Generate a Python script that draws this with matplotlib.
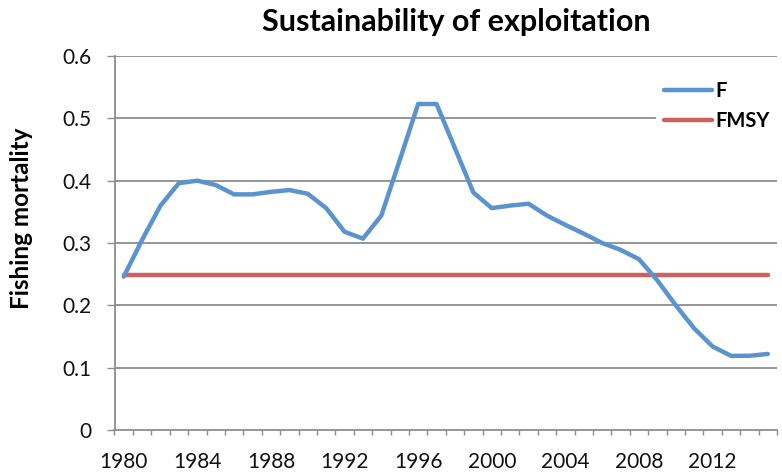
import matplotlib
matplotlib.use("Agg")
import matplotlib.pyplot as plt
import numpy as np

# Fishing mortality series (F) and the FMSY reference level
years = list(range(1980, 2016))
f_values = [0.246, 0.305, 0.360, 0.396, 0.400, 0.393, 0.378, 0.378, 0.382, 0.385,
            0.379, 0.356, 0.318, 0.307, 0.344, 0.433, 0.523, 0.523, 0.452, 0.381,
            0.356, 0.360, 0.363, 0.344, 0.329, 0.315, 0.300, 0.289, 0.274, 0.240,
            0.200, 0.163, 0.134, 0.119, 0.119, 0.122]
fmsy_values = [0.249] * len(years)
x_tick_labels = [1980, 1984, 1988, 1992, 1996, 2000, 2004, 2008, 2012]
y_ticks = [0, 0.1, 0.2, 0.3, 0.4, 0.5, 0.6]

plt.rcParams['font.family'] = ['Lato', 'DejaVu Sans']

W, H = 782, 472
fig = plt.figure(figsize=(W / 100, H / 100), dpi=100)
left, right, top, bottom = 114.5, 777, 56, 430
ax = fig.add_axes([left / W, 1 - bottom / H, (right - left) / W, (bottom - top) / H])

grey = '#8e8e8e'
blue = '#5b93cf'
red = '#cd615b'

ax.set_xlim(years[0] - 0.5, years[-1] + 0.5)
ax.set_ylim(0, 0.6)

# horizontal gridlines
for y in y_ticks[1:]:
    ax.axhline(y, color=grey, lw=1.3, zorder=1)

ax.plot(years, fmsy_values, color=red, lw=3.2, solid_capstyle='round', zorder=3, label='FMSY')
ax.plot(years, f_values, color=blue, lw=3.2, solid_capstyle='round',
        solid_joinstyle='round', zorder=4, label='F')

for s in ['top', 'right']:
    ax.spines[s].set_visible(False)
for s in ['left', 'bottom']:
    ax.spines[s].set_color(grey)
    ax.spines[s].set_linewidth(1.3)

ax.set_yticks(y_ticks)
ax.set_yticklabels([f"{v:g}" for v in y_ticks])
ax.tick_params(axis='y', direction='out', length=6, width=1, color=grey,
               pad=10.5, labelsize=15, labelcolor='#111111')

ax.set_xticks(x_tick_labels)
ax.set_xticklabels([str(v) for v in x_tick_labels])
ax.set_xticks(np.arange(years[0] - 0.5, years[-1] + 1.0, 1.0), minor=True)
ax.tick_params(axis='x', which='major', length=0, pad=15.5, labelsize=15, labelcolor='#111111')
ax.tick_params(axis='x', which='minor', direction='out', length=3.8, width=1, color=grey)

ax.set_ylabel('Fishing mortality', fontsize=17.5, fontweight='bold')
ax.yaxis.set_label_coords(-(left - 33.5) / (right - left), 0.5 + (250 - 225) / (bottom - top))

fig.text(456 / W, 1 - 22 / H, 'Sustainability of exploitation', ha='center', va='center',
         fontsize=22, fontweight='bold')

handles, labels = ax.get_legend_handles_labels()
leg = ax.legend(handles[::-1], labels[::-1], loc='upper left',
                bbox_to_anchor=(646 / W, 1 - 63 / H), bbox_transform=fig.transFigure,
                frameon=True, fancybox=False, edgecolor='none', facecolor='white', framealpha=1,
                handlelength=2.4, handletextpad=0.15, labelspacing=0.5, borderpad=0.4,
                prop={'weight': 'bold', 'size': 14.5})
leg.set_zorder(5)
for line in leg.get_lines():
    line.set_solid_capstyle('round')

fig.savefig('out.png', dpi=100)
